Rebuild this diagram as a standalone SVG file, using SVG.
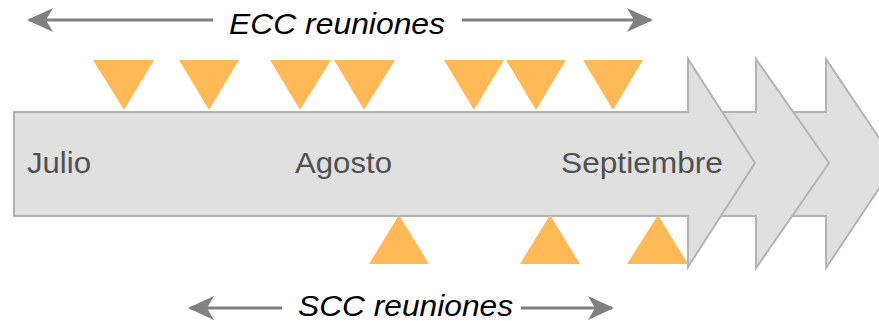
<svg xmlns="http://www.w3.org/2000/svg" width="879" height="321" viewBox="0 0 879 321">
<style>
.band{fill:#e0e0e0;stroke:#b3b3b3;stroke-width:2;stroke-linejoin:miter}
.tri{fill:#ffba57}
.month{font-family:"Liberation Sans",Arial,sans-serif;font-size:30px;fill:#505050}
.lbl{font-family:"Liberation Sans",Arial,sans-serif;font-size:29px;font-style:italic;fill:#000}
.conn{stroke:#808080;stroke-width:3;fill:none}
</style>
<defs>
<marker id="ah" markerUnits="userSpaceOnUse" markerWidth="30" markerHeight="30" viewBox="0 -15 30 30" refX="24" refY="0" orient="auto">
<path d="M26,0 L0,-12 L7,0 L0,12 Z" fill="#808080"/>
</marker>
</defs>
<rect width="879" height="321" fill="#fff"/>
<g id="timeline">
<path class="band" d="M750,112 H826 V59 L896,163 L826,268 V216 H750 Z"/>
<path class="band" d="M680,112 H756 V59 L829,163 L756,268 V216 H680 Z"/>
<path class="band" d="M14,112 H688 V59 L755,163 L688,267 V216 H14 Z"/>
</g>
<g id="months">
<text class="month" x="27" y="173" textLength="64" lengthAdjust="spacingAndGlyphs">Julio</text>
<text class="month" x="295" y="173" textLength="97" lengthAdjust="spacingAndGlyphs">Agosto</text>
<text class="month" x="561" y="173" textLength="162" lengthAdjust="spacingAndGlyphs">Septiembre</text>
</g>
<g id="ecc-markers">
<polygon class="tri" points="93,60 154,60 124,110"/>
<polygon class="tri" points="179,60 239,60 209,110"/>
<polygon class="tri" points="270,60 331,60 300,110"/>
<polygon class="tri" points="334,60 395,60 364,110"/>
<polygon class="tri" points="444,60 504,60 474,110"/>
<polygon class="tri" points="506,60 566,60 536,110"/>
<polygon class="tri" points="583,60 643,60 613,110"/>
</g>
<g id="scc-markers">
<polygon class="tri" points="369,264 429,264 399,215"/>
<polygon class="tri" points="520,264 580,264 550,215"/>
<polygon class="tri" points="627,264 688,264 658,215"/>
</g>
<g id="connectors">
<line class="conn" x1="213" y1="20" x2="29" y2="20" marker-end="url(#ah)"/>
<line class="conn" x1="462" y1="20" x2="651" y2="20" marker-end="url(#ah)"/>
<line class="conn" x1="282" y1="308" x2="190" y2="308" marker-end="url(#ah)"/>
<line class="conn" x1="521" y1="308" x2="612" y2="308" marker-end="url(#ah)"/>
</g>
<g id="ecc-label"><text class="lbl" x="229" y="34" textLength="216" lengthAdjust="spacingAndGlyphs">ECC reuniones</text></g>
<g id="scc-label"><text class="lbl" x="298" y="316" textLength="215" lengthAdjust="spacingAndGlyphs">SCC reuniones</text></g>
</svg>
